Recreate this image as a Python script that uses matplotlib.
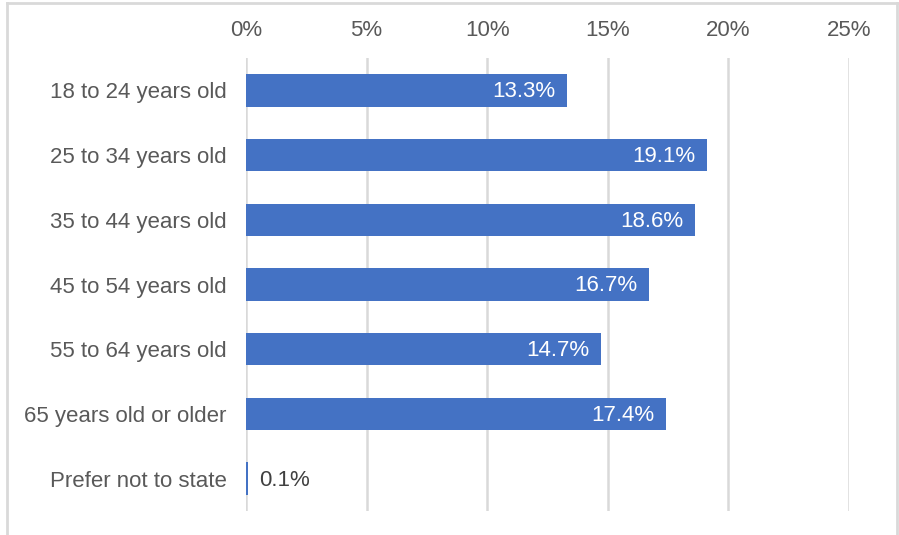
import matplotlib.pyplot as plt
from matplotlib.lines import Line2D
from matplotlib.ticker import FuncFormatter

# age groups and share of respondents (%)
groups = ["18 to 24 years old", "25 to 34 years old", "35 to 44 years old",
          "45 to 54 years old", "55 to 64 years old", "65 years old or older",
          "Prefer not to state"]
shares = [13.3, 19.1, 18.6, 16.7, 14.7, 17.4, 0.1]
xticks = [0, 5, 10, 15, 20, 25]

plt.rcParams['font.family'] = ['Liberation Sans', 'DejaVu Sans']

fig = plt.figure(figsize=(8.99, 5.35), dpi=100)
ax = fig.add_axes([246 / 899, 1 - 511 / 535, 603 / 899, 453 / 535])

ypos = list(range(len(groups)))
ax.barh(ypos, shares, height=0.5, color='#4472C4', zorder=3)
ax.set_ylim(len(groups) - 0.5, -0.5)
ax.set_xlim(0, 25)
ax.set_xticks(xticks)
ax.xaxis.set_major_formatter(FuncFormatter(lambda v, p: "%d%%" % v))
ax.xaxis.tick_top()
ax.set_yticks(ypos)
ax.set_yticklabels(groups)
ax.tick_params(axis='x', length=0, pad=12, labelsize=16, labelcolor='#595959')
ax.tick_params(axis='y', length=0, pad=14, labelsize=16, labelcolor='#595959')
ax.grid(axis='x', color='#D9D9D9', linewidth=1.8, zorder=0)
for s in ax.spines.values():
    s.set_visible(False)

for y, v in zip(ypos, shares):
    txt = "%.1f%%" % v
    if v > 2:
        ax.annotate(txt, (v, y), xytext=(-8, -1), textcoords='offset points',
                    ha='right', va='center', color='white', fontsize=16, zorder=4)
    else:
        ax.annotate(txt, (v, y), xytext=(8, -1), textcoords='offset points',
                    ha='left', va='center', color='#404040', fontsize=16, zorder=4)

# light frame around the chart area
frame = dict(color='#D9D9D9', linewidth=2, transform=fig.transFigure)
fig.add_artist(Line2D([7 / 899, 897 / 899], [1 - 3 / 535, 1 - 3 / 535], **frame))
fig.add_artist(Line2D([7 / 899, 7 / 899], [0, 1 - 3 / 535], **frame))
fig.add_artist(Line2D([897 / 899, 897 / 899], [0, 1 - 3 / 535], **frame))

fig.savefig("out.png", dpi=100)
